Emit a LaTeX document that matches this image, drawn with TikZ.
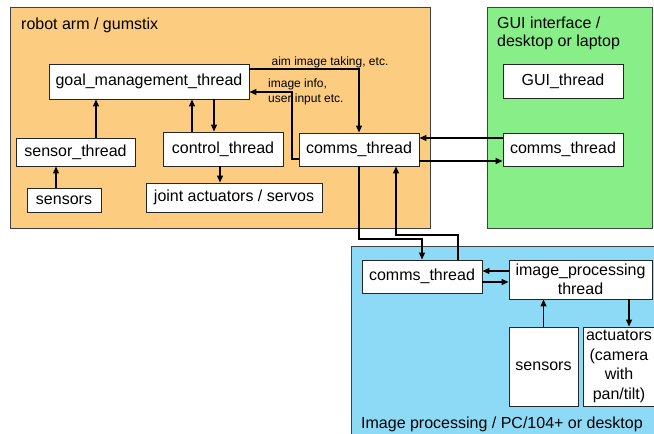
\documentclass[tikz,border=0pt]{standalone}
\usepackage{fontspec}
\setmainfont{Liberation Sans}
\usetikzlibrary{arrows.meta}
\definecolor{orangebg}{RGB}{252,204,128}
\definecolor{greenbg}{RGB}{136,238,136}
\definecolor{bluebg}{RGB}{140,218,245}
\begin{document}
\begin{tikzpicture}[x=1pt,y=-1pt,
  box/.style={draw=black!85, line width=0.9pt, fill=white, inner sep=0pt, align=center,
              font=\fontsize{16}{19.5}\selectfont},
  arr/.style={line width=1.1pt, -{Triangle[length=7pt,width=6pt]}},
  area/.style={draw=black!75, line width=0.8pt},
  title/.style={inner sep=0pt, font=\fontsize{16}{18}\selectfont, align=left},
  small/.style={inner sep=0pt, font=\fontsize{12}{15}\selectfont, align=left}]
\useasboundingbox (0,0) rectangle (654,434);
\clip (0,0) rectangle (654,434);
% areas
\path[area, fill=orangebg] (10,7) rectangle (430,228);
\path[area, fill=greenbg] (487,7) rectangle (652,228);
\path[area, fill=bluebg] (351,246) rectangle (670,450);
% titles
\node[title, anchor=west] (tA) at (21,25) {robot arm / gumstix};
\node[title, anchor=north west] (tG) at (497,17) {GUI interface /\\desktop or laptop};
\node[title, anchor=west] (tB) at (361,424) {Image processing / PC/104+ or desktop};
% nodes robot arm
\node[box, minimum width=200pt, minimum height=35pt] (goal) at (149,81.5) {goal\_management\_thread};
\node[box, minimum width=119pt, minimum height=28pt] (sthread) at (75.5,152) {sensor\_thread};
\node[box, minimum width=120pt, minimum height=34pt] (control) at (223,149) {control\_thread};
\node[box, minimum width=74pt, minimum height=24pt] (sensA) at (64,200) {sensors};
\node[box, minimum width=176pt, minimum height=29pt] (joint) at (234,197.5) {joint actuators / servos};
\node[box, minimum width=120pt, minimum height=33pt] (commsA) at (359,149.5) {comms\_thread};
% GUI
\node[box, minimum width=120pt, minimum height=34pt] (gui) at (563,81) {GUI\_thread};
\node[box, minimum width=120pt, minimum height=33pt] (commsG) at (563,149.5) {comms\_thread};
% image processing
\node[box, minimum width=120pt, minimum height=33pt] (commsB) at (422,276.5) {comms\_thread};
\node[box, minimum width=143pt, minimum height=39pt] (img) at (580.5,279.5) {image\_processing\\thread};
\node[box, minimum width=69pt, minimum height=79pt] (sensB) at (543.5,366.5) {sensors};
\node[box, minimum width=72pt, minimum height=79pt] (act) at (619,366.5) {actuators\\(camera\\with\\pan/tilt)};
% column / row helpers
\coordinate (x56) at (56,0);
\coordinate (x96) at (96,0);
\coordinate (x192) at (192,0);
\coordinate (x214) at (214,0);
\coordinate (x220) at (220,0);
\coordinate (x292) at (292,0);
\coordinate (x396) at (396,0);
\coordinate (x458) at (458,0);
\coordinate (x629) at (629,0);
\coordinate (y69) at (0,69);
\coordinate (y92) at (0,92);
\coordinate (y138) at (0,138);
\coordinate (y159) at (0,159);
\coordinate (y161) at (0,161);
\coordinate (y271) at (0,271);
\coordinate (y282) at (0,282);
\coordinate (j1) at (400,239);
\coordinate (j2) at (396,235);
% connectors robot arm
\draw[arr] (sensA.north -| x56) -- (sthread.south -| x56);
\draw[arr] (sthread.north -| x96) -- (goal.south -| x96);
\draw[arr] (control.north -| x192) -- (goal.south -| x192);
\draw[arr] (goal.south -| x214) -- (control.north -| x214);
\draw[arr] (control.south -| x220) -- (joint.north -| x220);
\draw[arr] (goal.east |- y69) -| (commsA.north);
\draw[arr] (commsA.west |- y159) -| (x292 |- y92) -- (goal.east |- y92);
\node[small, anchor=center] (lab1) at (330,62) {aim image taking, etc.};
\node[small, anchor=north west] (lab2) at (268,79) {image info,\\user input etc.};
% comms A <-> comms G
\draw[arr] (commsG.west |- y138) -- (commsA.east |- y138);
\draw[arr] (commsA.east |- y161) -- (commsG.west |- y161);
% comms A <-> comms B
\draw[arr] (commsA.south) |- (j1) -| (commsB.north);
\draw[arr] (commsB.north -| x458) |- (j2) -- (commsA.south -| x396);
% comms B <-> image processing
\draw[arr] (img.west |- y271) -- (commsB.east |- y271);
\draw[arr] (commsB.east |- y282) -- (img.west |- y282);
\draw[arr] (sensB.north) -- (img.south -| sensB.north);
\draw[arr] (img.south -| x629) -- (act.north -| x629);
\end{tikzpicture}
\end{document}
